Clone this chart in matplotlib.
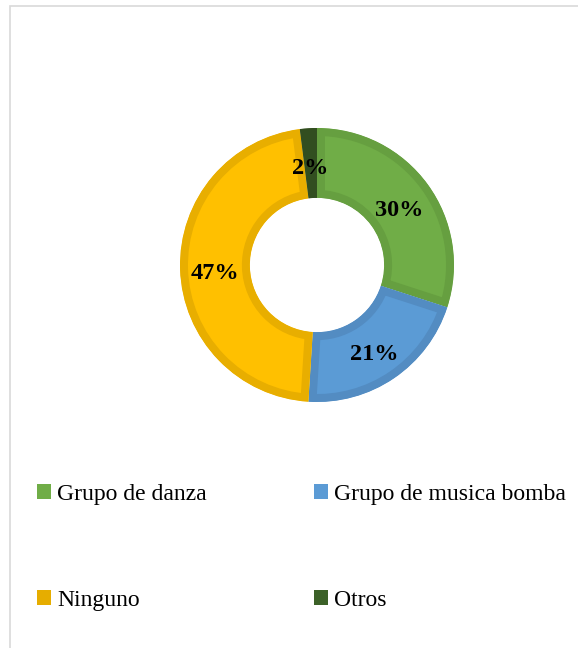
import matplotlib
matplotlib.use("Agg")
import matplotlib.pyplot as plt
from matplotlib.patches import Patch, Rectangle
import numpy as np

categories = ["Grupo de danza", "Grupo de musica bomba", "Ninguno", "Otros"]
values = [30, 21, 47, 2]
labels = ["30%", "21%", "47%", "2%"]
face_colors = ["#70AD47", "#5B9BD5", "#FFC000", "#375623"]
edge_colors = ["#669F40", "#538CC2", "#E8AE00", "#324E20"]
legend_colors = ["#70AD47", "#5B9BD5", "#E6AD00", "#3C6128"]

W, H = 578, 648
fig = plt.figure(figsize=(W / 100, H / 100), dpi=100)
fig.patch.set_facecolor("white")

# light chart-area frame
fig.patches.append(Rectangle((9.5 / W, -0.05), 1.2, (H - 5.5) / H + 0.05,
                             transform=fig.transFigure, fill=False,
                             edgecolor="#D9D9D9", linewidth=1.2))

cx, cy, R = 317, 265, 137
ax = fig.add_axes([(cx - R) / W, (H - cy - R) / H, 2 * R / W, 2 * R / H])

wedges, _ = ax.pie(values, startangle=90, counterclock=False, radius=1,
                   colors=face_colors,
                   wedgeprops=dict(width=0.51, linewidth=0))
ax.set_xlim(-1, 1)
ax.set_ylim(-1, 1)
ax.set_aspect("equal")
ax.axis("off")

# darker inner border on every segment (stroke clipped to the segment itself)
for w, ec in zip(wedges, edge_colors):
    w.set_edgecolor(ec)
    w.set_linewidth(11.5)
    w.set_clip_on(True)
    w.set_clip_path(w.get_path(), w.get_transform())

theta = 90.0
for v, lab in zip(values, labels):
    span = v / sum(values) * 360.0
    mid = np.deg2rad(theta - span / 2)
    theta -= span
    ax.text(0.745 * np.cos(mid), 0.745 * np.sin(mid) - 0.02, lab,
            ha="center", va="center_baseline", fontsize=17.5,
            fontweight="bold", family="Liberation Serif", color="black")

order = [0, 2, 1, 3]
handles = [Patch(facecolor=legend_colors[i], edgecolor="none") for i in order]
leg = fig.legend(handles, [categories[i] for i in order], ncol=2,
                 loc="upper left", bbox_to_anchor=(37 / W, 1 - 484 / H),
                 frameon=False, prop=dict(family="Liberation Serif", size=17),
                 handlelength=0.6, handleheight=0.6, handletextpad=0.25,
                 labelspacing=3.6, columnspacing=4.55, borderpad=0,
                 borderaxespad=0)

fig.savefig("out.png", dpi=100, facecolor="white")
